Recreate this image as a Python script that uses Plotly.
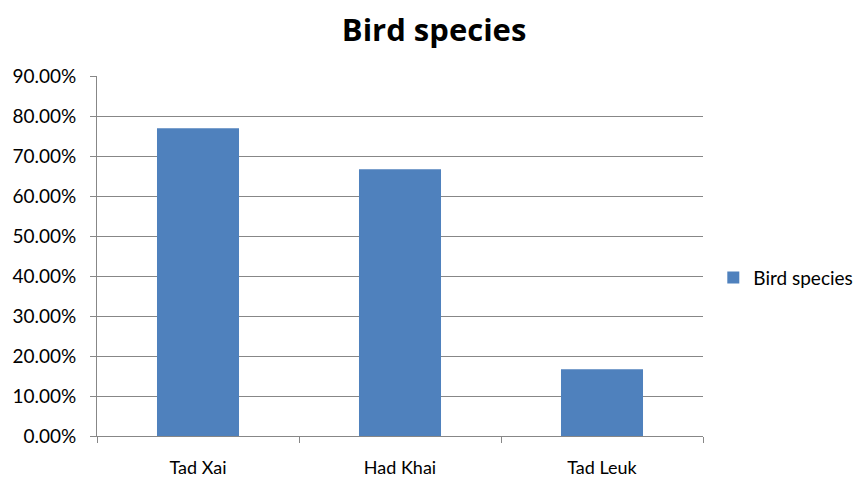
import plotly.graph_objects as go

categories = ["Tad Xai", "Had Khai", "Tad Leuk"]
values = [0.7692, 0.6667, 0.1667]
series_name = "Bird species"
y_ticks = [0.0, 0.1, 0.2, 0.3, 0.4, 0.5, 0.6, 0.7, 0.8, 0.9]

font_family = "Lato, Open Sans, Liberation Sans, sans-serif"
title_family = "Open Sans, Lato, Liberation Sans, sans-serif"
grid_color = "#878787"

fig = go.Figure(
    go.Bar(
        x=categories,
        y=values,
        name=series_name,
        marker=dict(color="#4F81BD", line=dict(width=0)),
        showlegend=True,
    )
)

fig.update_layout(
    width=863,
    height=478,
    margin=dict(l=97, r=160, t=76, b=42, autoexpand=False),
    paper_bgcolor="white",
    plot_bgcolor="white",
    bargap=0.594,
    font=dict(family=font_family, size=19, color="#000000"),
    title=dict(
        text="<b>Bird species</b>",
        x=0.503,
        xanchor="center",
        y=0.937,
        yanchor="middle",
        font=dict(family=title_family, size=31, color="#000000"),
    ),
    legend=dict(
        x=1.017,
        xanchor="left",
        y=0.44,
        yanchor="middle",
        font=dict(size=19),
        itemwidth=30,
    ),
)

fig.update_xaxes(
    automargin=False,
    showline=True,
    linecolor=grid_color,
    linewidth=1,
    ticks="outside",
    tickson="boundaries",
    ticklen=6,
    tickcolor=grid_color,
    ticklabelstandoff=15,
    tickfont=dict(size=18),
    showgrid=False,
)

fig.update_yaxes(
    automargin=False,
    range=[0, 0.9],
    tickvals=y_ticks,
    tickformat=".2%",
    showline=True,
    linecolor=grid_color,
    linewidth=1,
    ticks="outside",
    ticklen=6,
    tickcolor=grid_color,
    ticklabelstandoff=10,
    showgrid=True,
    gridcolor=grid_color,
    gridwidth=1,
    zeroline=False,
)

fig.write_html("out.html")
